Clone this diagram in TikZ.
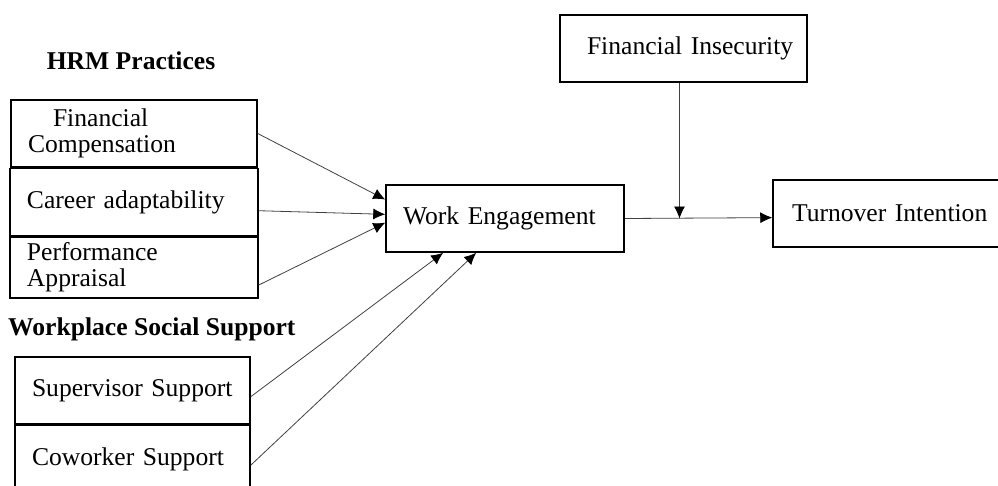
\documentclass[tikz,border=0pt]{standalone}
\usepackage{fontspec}
\setmainfont{Liberation Serif}
\usepackage{tikz}
\usetikzlibrary{positioning,arrows.meta}
\tikzset{line/.style={draw, line width=0.8pt, black!75, -{Latex[length=12pt,width=11pt,black]}}}

\begin{document}
\begin{tikzpicture}[x=1pt, y=-1pt, font=\fontsize{25.6}{26}\selectfont]
\tikzstyle{block} = [rectangle, draw, line width=1.5pt, inner xsep=17pt, inner ysep=0pt, align=left, minimum height=67pt]
\tikzstyle{heading} = [font=\fontsize{25.6}{26}\selectfont\bfseries, inner sep=0pt]

\clip (0,0) rectangle (998,485);

\node [heading, anchor=base] (hrm) at (131,69) {HRM Practices};
\node [block, text width=212pt] (fc) at (134,133.5) {\hspace*{25pt}Financial\\Compensation};
\node [block, text width=214pt, below=0pt of fc] (ca) {Career adaptability};
\node [block, text width=214pt, minimum height=61pt, below=0pt of ca] (pa) {Performance\\Appraisal};

\node [heading, anchor=base west] (wss) at (8,335) {Workplace Social Support};
\node [block, text width=201pt] (ss) at (132.5,390.5) {Supervisor Support};
\node [block, text width=201pt, below=0pt of ss] (cs) {Coworker Support};

\node [block, text width=204pt] (we) at (505,218.5) {Work Engagement};
\node [block, text width=237pt, inner xsep=5pt] (fi) at (683.5,48.5) {\hspace*{22pt}Financial Insecurity};
\node [block, text width=201pt] (ti) at (890.5,213.5) {\hspace*{2pt}Turnover Intention};

\path [line] (fc.east) -- (we.171);
\path [line] (ca.356) -- (we.178);
\path [line] (pa.352) -- (we.182);
\path [line] (ss.357) -- (we.209);
\path [line] (cs.357) -- (we.230);
\path [line] (we.east) -- (ti.182);
\path [line] ([xshift=-4pt]fi.south) -- ([xshift=-4pt]fi.south|-we.east);

\end{tikzpicture}
\end{document}
